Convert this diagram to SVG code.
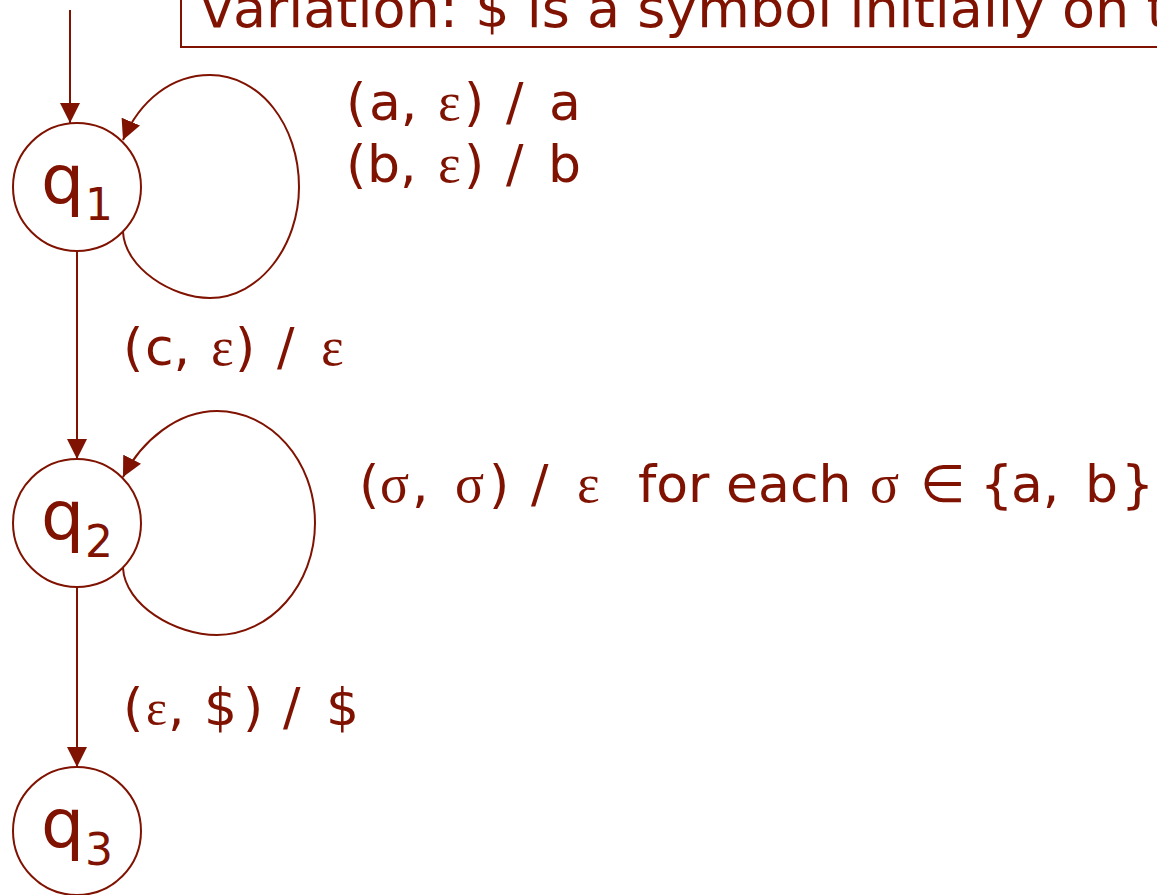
<svg xmlns="http://www.w3.org/2000/svg" width="1157" height="895" viewBox="0 0 1157 895">
<defs>
<style>
.ln{fill:none;stroke:#7f1200;stroke-width:2}
.nd{fill:#fff;stroke:#7f1200;stroke-width:2}
.t{fill:#7f1200;font-family:"DejaVu Sans","Verdana",sans-serif;font-size:52px}
.g{font-family:"Liberation Serif","Times New Roman",serif;font-size:54px}
.q{fill:#7f1200;font-family:"DejaVu Sans",sans-serif;font-size:68px}
.s{fill:#7f1200;font-family:"DejaVu Sans",sans-serif;font-size:44px}
</style>
<marker id="ah" markerUnits="userSpaceOnUse" markerWidth="20" markerHeight="20" viewBox="0 0 20 20" refX="20" refY="10" orient="auto">
<path d="M0,0 L20,10 L0,20 Z" fill="#7f1200"/>
</marker>
</defs>
<rect x="181" y="-20" width="1000" height="67" fill="#fff" stroke="#7f1200" stroke-width="2"/>
<text x="201" y="27" class="t" style="font-size:54px">variation: $ is a symbol initially on t</text>
<g id="connectors">
<path class="ln" d="M70,10 L70,123" marker-end="url(#ah)"/>
<path class="ln" d="M77,251 L77,459" marker-end="url(#ah)"/>
<path class="ln" d="M77,587 L77,767" marker-end="url(#ah)"/>
<path class="ln" d="M123,232 C125,268 172,298 210,298 C260,298 299,245 299,187 C299,125 260,75 210,75 C172,75 140,100 123,140" marker-end="url(#ah)"/>
<path class="ln" d="M123,568 C125,605 175,635 217,635 C270,635 315,585 315,523 C315,460 270,411 217,411 C178,411 142,440 123,477" marker-end="url(#ah)"/>
</g>
<g id="q1">
<circle class="nd" cx="77" cy="187" r="64"/>
<text class="q" x="41" y="203">q</text>
<text class="s" x="85" y="220">1</text>
</g>
<g id="q2">
<circle class="nd" cx="77" cy="523" r="64"/>
<text class="q" x="41" y="539">q</text>
<text class="s" x="85" y="557">2</text>
</g>
<g id="q3">
<circle class="nd" cx="77" cy="831" r="64"/>
<text class="q" x="41" y="847">q</text>
<text class="s" x="85" y="865">3</text>
</g>
<g id="labels">
<text class="t" y="120"><tspan x="346">(</tspan><tspan x="369">a,</tspan><tspan x="438" class="g">ε</tspan><tspan x="464">)</tspan><tspan x="506">/</tspan><tspan x="549">a</tspan></text>
<text class="t" y="182"><tspan x="346">(</tspan><tspan x="367">b,</tspan><tspan x="438" class="g">ε</tspan><tspan x="464">)</tspan><tspan x="506">/</tspan><tspan x="548">b</tspan></text>
<text class="t" y="365"><tspan x="123">(</tspan><tspan x="145">c,</tspan><tspan x="211" class="g">ε</tspan><tspan x="235">)</tspan><tspan x="277">/</tspan><tspan x="321" class="g">ε</tspan></text>
<text class="t" y="502"><tspan x="359">(</tspan><tspan x="380" class="g">σ</tspan><tspan x="412">,</tspan><tspan x="455" class="g">σ</tspan><tspan x="489">)</tspan><tspan x="531">/</tspan><tspan x="577" class="g">ε</tspan><tspan x="638">for each</tspan><tspan x="870" class="g">σ</tspan><tspan x="920">∈</tspan><tspan x="980">{</tspan><tspan x="1011">a,</tspan><tspan x="1085">b</tspan><tspan x="1121">}</tspan></text>
<text class="t" y="725"><tspan x="123">(</tspan><tspan x="146" class="g" style="font-size:50px">ε</tspan><tspan x="168">,</tspan><tspan x="204">$</tspan><tspan x="243">)</tspan><tspan x="283">/</tspan><tspan x="326">$</tspan></text>
</g>
</svg>
